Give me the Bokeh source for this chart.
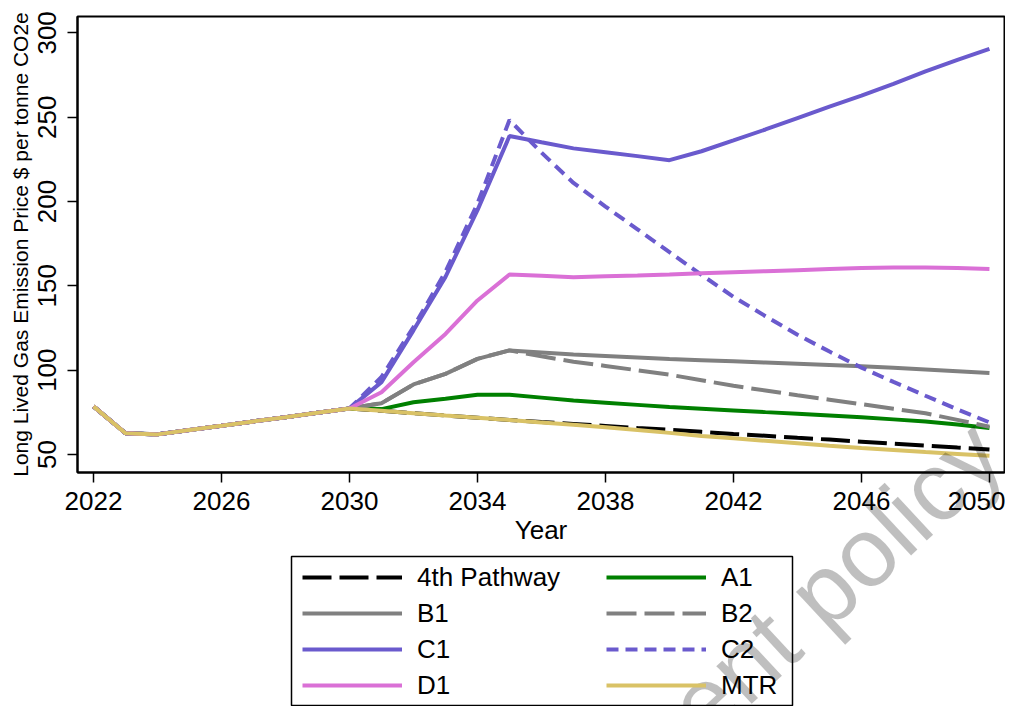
import math
from bokeh.plotting import figure
from bokeh.models import (Legend, LegendItem, FixedTicker, Range1d, Label,
                          BoxAnnotation, Column)
from bokeh.embed import file_html
from bokeh.resources import INLINE

years = list(range(2022, 2051))

# common path 2022-2030
pre2030 = [78.5, 62.6, 61.9, 64.5, 67.0, 69.6, 72.1, 74.7, 77.3]

# 2031-2050 values for each scenario
pathway4 = pre2030 + [75.9, 74.5, 73.1, 71.8, 70.4, 69.2, 68.1, 66.9, 65.7, 64.6,
                      63.4, 62.2, 61.1, 59.9, 58.8, 57.6, 56.4, 55.3, 54.1, 53.0]
a1 = pre2030 + [76.9, 81.0, 83.0, 85.4, 85.4, 83.7, 82.0, 80.7, 79.4, 78.1,
                77.1, 76.1, 75.1, 74.2, 73.1, 72.0, 70.8, 69.6, 67.7, 65.7]
b1 = pre2030 + [80.4, 91.5, 97.8, 106.7, 111.7, 110.5, 109.3, 108.4, 107.5, 106.6,
                105.9, 105.2, 104.5, 103.8, 103.1, 102.3, 101.4, 100.4, 99.4, 98.3]
b2 = pre2030 + [80.4, 91.5, 97.8, 106.7, 111.7, 108.2, 105.0, 102.5, 99.9, 97.3,
                94.0, 90.7, 87.9, 85.1, 82.5, 79.8, 77.1, 74.4, 70.5, 66.4]
c1 = pre2030 + [92.9, 123.6, 155.3, 194.9, 238.8, 235.1, 231.5, 229.2, 226.9, 224.5,
                229.8, 236.2, 242.7, 249.5, 256.3, 262.8, 269.8, 277.2, 284.0, 290.5]
c2 = pre2030 + [95.9, 125.6, 158.3, 198.8, 248.3, 229.0, 211.0, 197.0, 183.5, 170.0,
                156.5, 143.5, 132.0, 121.0, 111.0, 101.5, 93.0, 84.8, 76.7, 69.0]
d1 = pre2030 + [86.9, 104.7, 121.5, 141.3, 156.7, 155.9, 155.1, 155.6, 156.1, 156.7,
                157.4, 158.1, 158.7, 159.3, 159.9, 160.5, 160.8, 160.9, 160.5, 159.9]
mtr = pre2030 + [75.9, 74.5, 73.1, 71.8, 70.4, 69.0, 67.6, 66.2, 64.5, 62.8,
                 61.0, 59.6, 58.1, 56.6, 55.1, 53.8, 52.6, 51.4, 50.3, 49.2]

x_ticks = [2022, 2026, 2030, 2034, 2038, 2042, 2046, 2050]
y_ticks = [50, 100, 150, 200, 250, 300]

series = [
    ("4th Pathway", pathway4, "black", "29 8"),
    ("A1", a1, "#008000", "solid"),
    ("B1", b1, "#808080", "solid"),
    ("B2", b2, "#808080", "30 8"),
    ("C1", c1, "#6A5ACD", "solid"),
    ("C2", c2, "#6A5ACD", "12 7"),
    ("D1", d1, "#DA70D6", "solid"),
    ("MTR", mtr, "#D9C266", "solid"),
]
left_col = ["4th Pathway", "B1", "C1", "D1"]
right_col = ["A1", "B2", "C2", "MTR"]

FONT = "Liberation Sans"
W, H = 1005, 706
FRAME_L, FRAME_R = 77, 1004
LW = 4
NAN = float("nan")

# ---------------- main chart ----------------
p = figure(width=W, height=H,
           x_range=Range1d(2021.5, 2050.47), y_range=Range1d(39.3, 309.7),
           output_backend="svg", toolbar_location=None,
           min_border_left=FRAME_L, min_border_right=W - FRAME_R,
           min_border_top=16, min_border_bottom=234)
p.xgrid.visible = False
p.ygrid.visible = False
p.outline_line_color = "black"
p.outline_line_width = 2
p.outline_line_alpha = 1
p.background_fill_color = "white"
p.border_fill_color = "white"

for ax in (p.xaxis[0], p.yaxis[0]):
    ax.axis_line_width = 2
    ax.axis_line_color = "black"
    ax.major_tick_line_width = 1.5
    ax.major_tick_line_color = "black"
    ax.major_tick_out = 10
    ax.major_tick_in = 0
    ax.minor_tick_out = 0
    ax.minor_tick_in = 0
    ax.major_label_text_font = FONT
    ax.major_label_text_font_size = "26px"
    ax.major_label_text_color = "black"
    ax.axis_label_text_font = FONT
    ax.axis_label_text_font_style = "normal"
    ax.axis_label_text_color = "black"

p.xaxis.major_label_standoff = 9
p.xaxis.axis_label_standoff = 2
p.yaxis.major_label_standoff = 11
p.yaxis.axis_label_standoff = 4

p.xaxis.ticker = FixedTicker(ticks=x_ticks)
p.yaxis.ticker = FixedTicker(ticks=y_ticks)
p.yaxis.major_label_orientation = "vertical"
p.xaxis.axis_label = "Year"
p.xaxis.axis_label_text_font_size = "26px"
p.yaxis.axis_label = "Long Lived Gas Emission Price $ per tonne CO2e"
p.yaxis.axis_label_text_font_size = "21px"

for name, vals, color, dash in series:
    p.line(years, vals, line_color=color, line_width=LW, line_dash=dash)

# ---------------- overlay: legend + watermark ----------------
# its frame is aligned horizontally with the chart frame; data units = pixels
ov = figure(width=W, height=H, x_range=Range1d(FRAME_L, FRAME_R),
            y_range=Range1d(0, H),
            x_axis_type=None, y_axis_type=None, output_backend="svg",
            toolbar_location=None, min_border=0, margin=(-H, 0, 0, 0))
ov.background_fill_alpha = 0
ov.border_fill_alpha = 0
ov.outline_line_color = None

proxies = {}
for name, vals, color, dash in series:
    proxies[name] = ov.line(x=[NAN], y=[NAN], line_color=color, line_width=LW,
                            line_dash=dash)

# legend frame (pixel coordinates, y measured upward from the bottom)
ov.add_layout(BoxAnnotation(left=291, right=792, bottom=1, top=H - 556,
                            fill_color="white", fill_alpha=1,
                            line_color="black", line_width=1.5, line_alpha=1))

leg_style = dict(glyph_width=100, glyph_height=36, label_height=36, spacing=0,
                 padding=0, margin=0, label_standoff=15,
                 label_text_font=FONT, label_text_font_size="26px",
                 label_text_color="black", border_line_alpha=0,
                 background_fill_alpha=0)
legL = Legend(items=[LegendItem(label=n, renderers=[proxies[n]]) for n in left_col],
              location=(302 - FRAME_L, 3), **leg_style)
legR = Legend(items=[LegendItem(label=n, renderers=[proxies[n]]) for n in right_col],
              location=(606 - FRAME_L, 3), **leg_style)
ov.add_layout(legL)
ov.add_layout(legR)

ov.add_layout(Label(x=986, y=H - 438, text="ent policy", angle=math.radians(43),
                    text_align="right", text_baseline="alphabetic",
                    text_font=FONT, text_font_size="98px",
                    text_color="black", text_alpha=0.25))

layout = Column(children=[p, ov], spacing=0)

open("out.html", "w").write(file_html(layout, INLINE))
